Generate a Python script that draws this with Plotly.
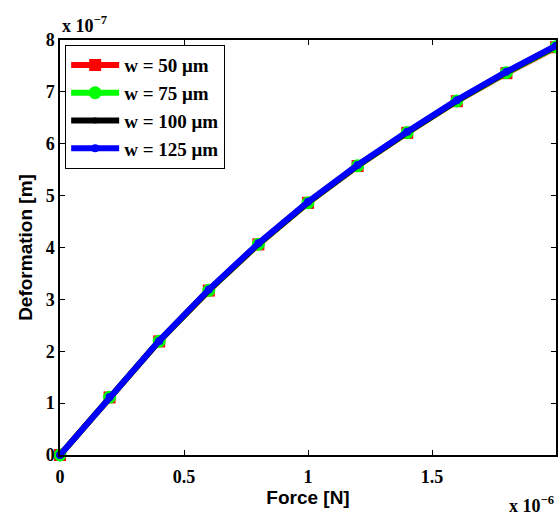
import plotly.graph_objects as go

force_uN = [0, 0.2, 0.4, 0.6, 0.8, 1.0, 1.2, 1.4, 1.6, 1.8, 2.0]
def_w50 = [0, 1.11, 2.19, 3.17, 4.06, 4.86, 5.57, 6.21, 6.82, 7.36, 7.86]
def_w75 = [0, 1.115, 2.195, 3.175, 4.065, 4.865, 5.575, 6.215, 6.825, 7.37, 7.87]
def_w100 = [0, 1.12, 2.2, 3.18, 4.07, 4.87, 5.58, 6.22, 6.83, 7.38, 7.88]
def_w125 = [0, 1.12, 2.2, 3.19, 4.08, 4.88, 5.59, 6.23, 6.84, 7.39, 7.89]
series_names = ["w = 50 \u03bcm", "w = 75 \u03bcm", "w = 100 \u03bcm", "w = 125 \u03bcm"]
x_ticks = [0, 0.5, 1, 1.5, 2]
x_ticklabels = ["0", "0.5", "1", "1.5", "2"]
y_ticks = [0, 1, 2, 3, 4, 5, 6, 7, 8]
y_ticklabels = [str(v) for v in y_ticks]

xs = [v * 1e-6 for v in force_uN]
styles = [
    ("#ff0000", "square", 12, 6),
    ("#00ff00", "circle", 13, 6),
    ("#000000", "circle", 6, 6),
    ("#0000ff", "circle", 8, 6),
]
fig = go.Figure()
for name, ys, (col, sym, ms, lw) in zip(series_names, [def_w50, def_w75, def_w100, def_w125], styles):
    fig.add_trace(go.Scatter(
        x=xs, y=[v * 1e-7 for v in ys], name="<b>" + name + "</b>", mode="lines+markers",
        line=dict(color=col, width=lw),
        marker=dict(color=col, symbol=sym, size=ms),
        cliponaxis=False,
    ))

tickfont = dict(family="Liberation Serif", size=18, color="black")
axis_common = dict(
    showgrid=False, zeroline=False, showline=True, linecolor="black", linewidth=1.5,
    mirror="ticks", ticks="inside", ticklen=5, tickcolor="black", tickfont=tickfont,
)
fig.update_layout(
    width=558, height=516,
    margin=dict(l=60, r=0, t=40, b=61),
    paper_bgcolor="white", plot_bgcolor="white",
    font=dict(family="Liberation Serif", color="black"),
    showlegend=True,
    legend=dict(
        x=0.01, y=0.988, xanchor="left", yanchor="top",
        bgcolor="white", bordercolor="black", borderwidth=1.2,
        font=dict(family="Liberation Serif", size=19, color="black"),
        itemwidth=48, tracegroupgap=0,
    ),
    xaxis=dict(
        range=[0, 2e-6], tickvals=[v * 1e-6 for v in x_ticks],
        ticktext=["<b>" + t + "</b>" for t in x_ticklabels],
        ticklabelstandoff=5,
        title=dict(text="<b>Force [N]</b>", font=dict(family="Liberation Sans", size=19, color="black"), standoff=4),
        **axis_common,
    ),
    yaxis=dict(
        range=[0, 8e-7], tickvals=[v * 1e-7 for v in y_ticks],
        ticktext=["<b>" + t + "</b>" for t in y_ticklabels],
        title=dict(text="<b>Deformation [m]</b>", font=dict(family="Liberation Sans", size=19, color="black"), standoff=8),
        **axis_common,
    ),
    annotations=[
        dict(text="<b>x 10<sup>\u22127</sup></b>", x=0.0, y=1.0, xref="paper", yref="paper",
             xanchor="left", yanchor="bottom", showarrow=False, yshift=2,
             font=dict(family="Liberation Serif", size=18, color="black")),
        dict(text="<b>x 10<sup>\u22126</sup></b>", x=1.0, y=0.0, xref="paper", yref="paper",
             xanchor="right", yanchor="top", showarrow=False, yshift=-36,
             font=dict(family="Liberation Serif", size=18, color="black")),
    ],
)
fig.write_html("out.html")
